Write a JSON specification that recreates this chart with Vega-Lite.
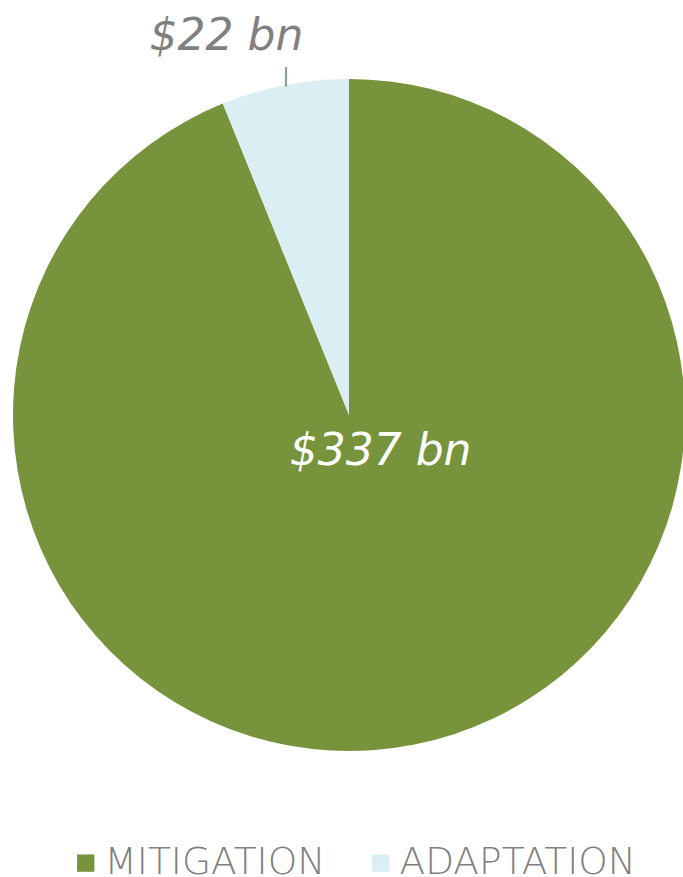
{
  "$schema": "https://vega.github.io/schema/vega-lite/v6.json",
  "width": 698,
  "height": 830,
  "padding": 0,
  "background": "white",
  "config": {"view": {"stroke": null}},
  "data": {"values": [
    {"category": "MITIGATION", "value": 337, "label": "$337 bn"},
    {"category": "ADAPTATION", "value": 22, "label": "$22 bn"}
  ]},
  "encoding": {
    "theta": {"field": "value", "type": "quantitative", "stack": true},
    "order": {"field": "category", "sort": "descending"}
  },
  "layer": [
    {
      "mark": {"type": "arc", "outerRadius": 336},
      "encoding": {
        "color": {
          "field": "category", "type": "nominal",
          "scale": {"domain": ["MITIGATION", "ADAPTATION"], "range": ["#77933C", "#DAEEF3"]},
          "legend": {
            "title": null, "orient": "none", "legendX": 67, "legendY": 844,
            "direction": "horizontal", "symbolType": "square", "symbolSize": 300,
            "symbolStrokeWidth": 0, "labelFont": "DejaVu Sans", "labelFontWeight": 200,
            "labelFontSize": 37.5, "labelColor": "#7f7f7f", "labelOffset": 0,
            "columnPadding": 36, "labelLimit": 400
          }
        }
      }
    },
    {
      "mark": {"type": "text", "font": "DejaVu Sans", "fontWeight": 200, "fontStyle": "italic", "fontSize": 44, "color": "white", "align": "center", "baseline": "alphabetic", "dx": 23, "dy": 6},
      "encoding": {
        "radius": {"value": 45},
        "text": {"condition": {"test": "datum.category === 'MITIGATION'", "field": "label"}, "value": ""}
      }
    },
    {
      "mark": {"type": "text", "font": "DejaVu Sans", "fontWeight": 200, "fontStyle": "italic", "fontSize": 44, "color": "#808080", "align": "center", "baseline": "alphabetic", "dx": -48, "dy": 18},
      "encoding": {
        "radius": {"value": 390},
        "text": {"condition": {"test": "datum.category === 'ADAPTATION'", "field": "label"}, "value": ""}
      }
    },
    {
      "mark": {"type": "text", "font": "DejaVu Sans", "fontSize": 19, "color": "#808080", "align": "center", "baseline": "middle", "dx": 3},
      "encoding": {
        "radius": {"value": 345},
        "text": {"condition": {"test": "datum.category === 'ADAPTATION'", "value": "|"}, "value": ""}
      }
    }
  ]
}
